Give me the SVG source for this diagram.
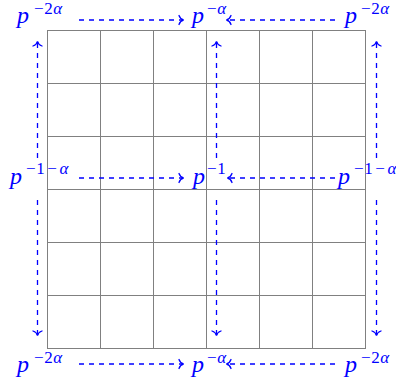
<svg xmlns="http://www.w3.org/2000/svg" width="396" height="383" viewBox="0 0 396 383">
<style>
.grid{stroke:#808080;stroke-width:1;fill:none}
.m{font-family:'Liberation Serif','DejaVu Serif',serif;font-style:italic;font-size:24px;fill:#0000ff}
.s{font-style:normal;font-size:17px;letter-spacing:0.6px}
.i{font-style:italic}
.arr{stroke:#0000ff;stroke-width:1.3;stroke-dasharray:5 5;fill:none;marker-end:url(#ah)}
</style>
<defs>
<marker id="ah" markerUnits="userSpaceOnUse" markerWidth="14" markerHeight="14" refX="0" refY="0" viewBox="-7 -7 14 14" orient="auto" overflow="visible">
<path d="M -4 -4.5 C -3 -1.6 -1.2 -0.4 0.6 0 C -1.2 0.4 -3 1.6 -4 4.5" fill="none" stroke="#0000ff" stroke-width="1.3" stroke-linecap="round"/>
</marker>
</defs>
<g id="grid">
<rect class="grid" x="47.5" y="30.5" width="318" height="318"/>
<path class="grid" d="M100.5 30.5V348.5M153.5 30.5V348.5M206.5 30.5V348.5M259.5 30.5V348.5M312.5 30.5V348.5M47.5 83.5H365.5M47.5 136.5H365.5M47.5 189.5H365.5M47.5 242.5H365.5M47.5 295.5H365.5"/>
</g>
<g id="connectors">
<path class="arr" d="M79 20H183"/>
<path class="arr" d="M335 20H227"/>
<path class="arr" d="M79 178H183"/>
<path class="arr" d="M335 178H228"/>
<path class="arr" d="M79 364H183"/>
<path class="arr" d="M335 364H227"/>
<path class="arr" d="M37.5 158V42"/>
<path class="arr" d="M37.5 200V335"/>
<path class="arr" d="M216.5 158V42"/>
<path class="arr" d="M216.5 200V335"/>
<path class="arr" d="M376.5 158V42"/>
<path class="arr" d="M376.5 200V335"/>
</g>
<g id="n-tl"><text class="m" x="17" y="23">p<tspan class="s" x="34" y="14">−2<tspan class="i">α</tspan></tspan></text></g>
<g id="n-tc"><text class="m" x="192" y="23">p<tspan class="s" x="207" y="14">−<tspan class="i">α</tspan></tspan></text></g>
<g id="n-tr"><text class="m" x="345" y="23">p<tspan class="s" x="361" y="14">−2<tspan class="i">α</tspan></tspan></text></g>
<g id="n-ml"><text class="m" x="10" y="184">p<tspan class="s" x="26" y="174">−1<tspan dx="2">−</tspan><tspan class="i" dx="2">α</tspan></tspan></text></g>
<g id="n-mc"><text class="m" x="193" y="184">p<tspan class="s" x="207" y="174">−1</tspan></text></g>
<g id="n-mr"><text class="m" x="338" y="184">p<tspan class="s" x="354" y="174">−1<tspan dx="2">−</tspan><tspan class="i" dx="2">α</tspan></tspan></text></g>
<g id="n-bl"><text class="m" x="17" y="372">p<tspan class="s" x="34" y="363">−2<tspan class="i">α</tspan></tspan></text></g>
<g id="n-bc"><text class="m" x="192" y="372">p<tspan class="s" x="207" y="363">−<tspan class="i">α</tspan></tspan></text></g>
<g id="n-br"><text class="m" x="345" y="372">p<tspan class="s" x="361" y="363">−2<tspan class="i">α</tspan></tspan></text></g>
</svg>
